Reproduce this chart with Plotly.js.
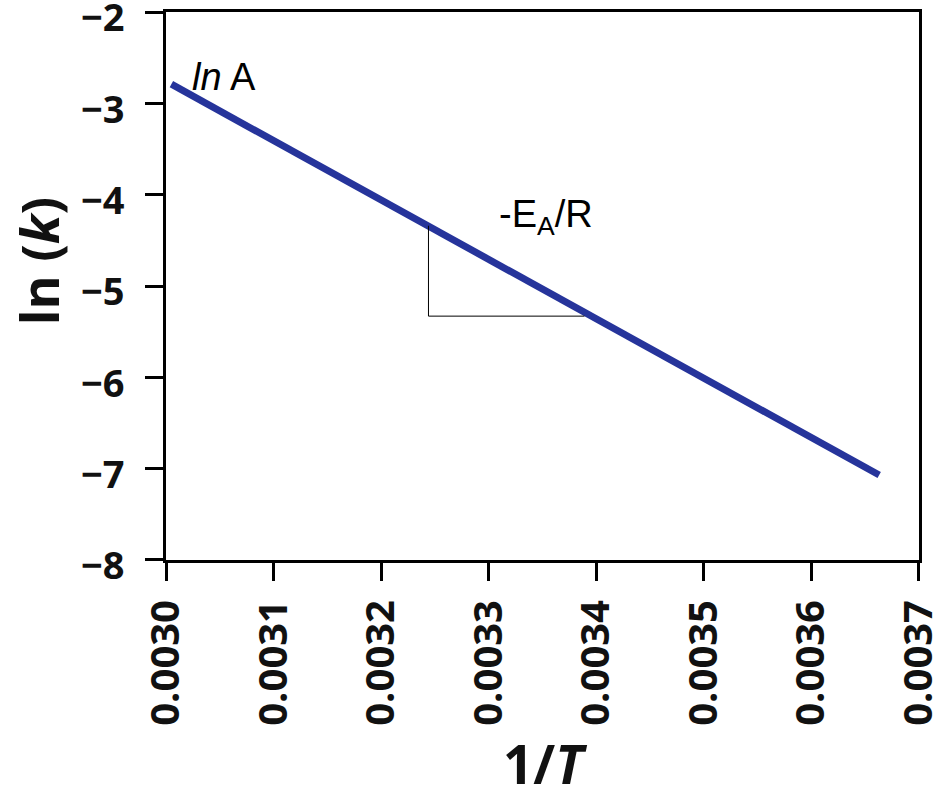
<!DOCTYPE html>
<html>
<head>
<meta charset="utf-8">
<script src="https://cdn.plot.ly/plotly-3.0.1.min.js"></script>
<style>html,body{margin:0;padding:0;background:#fff;}#chart{width:941px;height:794px;}</style>
</head>
<body>
<div id="chart"></div>
<script>
// Arrhenius line: ln(k) vs 1/T
const invT = [0.003005, 0.003663];
const lnK = [-2.79, -7.07];
// slope triangle
const triX = [0.003244, 0.003244, 0.003389];
const triY = [-4.34, -5.33, -5.33];
// labels
const xTicks = [0.0030, 0.0031, 0.0032, 0.0033, 0.0034, 0.0035, 0.0036, 0.0037];
const yTicks = [-2, -3, -4, -5, -6, -7, -8];
const lnALabel = {x: 0.003022, y: -2.71, text: '<i>ln</i> A'};
const slopeLabel = {x: 0.003308, y: -4.24, text: '-E<sub>A</sub>/R'};
const yTitle = 'ln (<i>k</i>)';
const xTitle = '1/<i>T</i>';

const traces = [
  {x: invT, y: lnK, mode: 'lines', line: {color: '#26349b', width: 7}, hoverinfo: 'skip'},
  {x: triX, y: triY, mode: 'lines', line: {color: '#000', width: 1}, hoverinfo: 'skip'}
];

const layout = {
  width: 941, height: 794,
  margin: {l: 166, r: 22, t: 12, b: 234},
  paper_bgcolor: '#fff', plot_bgcolor: '#fff',
  showlegend: false,
  xaxis: {
    range: [0.00299999, 0.00370001], tickvals: xTicks, tickformat: '.4f', tickangle: -90,
    ticks: 'outside', ticklen: 18, tickwidth: 3, tickcolor: '#000',
    showline: true, linewidth: 3, linecolor: '#000', mirror: true,
    showgrid: false, zeroline: false, automargin: false,
    tickfont: {family: 'Open Sans', size: 40, color: '#111', weight: 'bold'}, ticklabelstandoff: 3,
    ticklabeloverflow: 'allow', ticklabelshift: 0
  },
  yaxis: {
    range: [-8.0001, -1.9999], tickvals: yTicks,
    ticks: 'outside', ticklen: 18, tickwidth: 3, tickcolor: '#000',
    showline: true, linewidth: 3, linecolor: '#000', mirror: true,
    showgrid: false, zeroline: false, automargin: false,
    tickfont: {family: 'Open Sans', size: 38, color: '#111', weight: 'bold'}, ticklabelstandoff: 13,
    ticklabeloverflow: 'allow', ticklabelshift: 6
  },
  annotations: [
    {xref: 'paper', yref: 'paper', x: -0.17, y: 0.545, text: yTitle, textangle: -90, showarrow: false,
     xanchor: 'center', yanchor: 'middle',
     font: {family: 'Open Sans', size: 52, color: '#111', weight: 'bold'}},
    {xref: 'paper', yref: 'paper', x: 0.503, y: -0.372, text: xTitle, showarrow: false,
     xanchor: 'center', yanchor: 'middle',
     font: {family: 'Open Sans', size: 53, color: '#111', weight: 'bold'}},
    {x: lnALabel.x, y: lnALabel.y, text: lnALabel.text, showarrow: false, xanchor: 'left', yanchor: 'middle',
     font: {family: 'Liberation Sans', size: 38, color: '#000'}},
    {x: slopeLabel.x, y: slopeLabel.y, text: slopeLabel.text, showarrow: false, xanchor: 'left', yanchor: 'middle',
     font: {family: 'Liberation Sans', size: 38, color: '#000'}}
  ]
};
Plotly.newPlot('chart', traces, layout, {displayModeBar: false, staticPlot: true});
</script>
</body>
</html>
